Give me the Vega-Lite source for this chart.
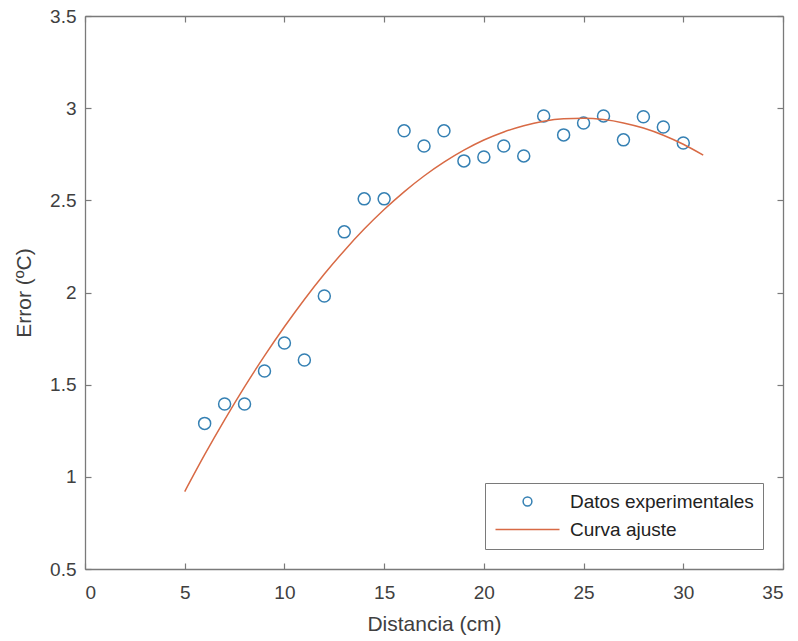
{
  "$schema": "https://vega.github.io/schema/vega-lite/v6.json",
  "width": 698,
  "height": 553,
  "autosize": {"type": "none"},
  "padding": {"left": 85, "top": 16, "right": 15, "bottom": 72},
  "background": "white",
  "config": {
    "view": {"stroke": null},
    "font": "Liberation Sans",
    "axis": {
      "grid": false,
      "domainColor": "#7a7a7a",
      "domainWidth": 1.3,
      "tickColor": "#7a7a7a",
      "tickWidth": 1.2,
      "tickSize": -6,
      "labelFontSize": 19,
      "labelColor": "#404040",
      "titleFontSize": 21,
      "titleColor": "#404040",
      "titleFontWeight": "normal"
    },
    "legend": {
      "orient": "bottom-right",
      "offset": 20,
      "padding": 9,
      "rowPadding": 8,
      "strokeColor": "#7a7a7a",
      "fillColor": "white",
      "labelFontSize": 19,
      "labelLimit": 400,
      "labelColor": "#222222",
      "symbolStrokeWidth": 1.5,
      "symbolSize": 256,
      "symbolOffset": 24,
      "labelOffset": 33
    }
  },
  "datasets": {
    "datos": [
      {"x": 6, "y": 1.29, "serie": "Datos experimentales"},
      {"x": 7, "y": 1.395, "serie": "Datos experimentales"},
      {"x": 8, "y": 1.395, "serie": "Datos experimentales"},
      {"x": 9, "y": 1.574, "serie": "Datos experimentales"},
      {"x": 10, "y": 1.726, "serie": "Datos experimentales"},
      {"x": 11, "y": 1.634, "serie": "Datos experimentales"},
      {"x": 12, "y": 1.981, "serie": "Datos experimentales"},
      {"x": 13, "y": 2.329, "serie": "Datos experimentales"},
      {"x": 14, "y": 2.508, "serie": "Datos experimentales"},
      {"x": 15, "y": 2.508, "serie": "Datos experimentales"},
      {"x": 16, "y": 2.877, "serie": "Datos experimentales"},
      {"x": 17, "y": 2.795, "serie": "Datos experimentales"},
      {"x": 18, "y": 2.877, "serie": "Datos experimentales"},
      {"x": 19, "y": 2.714, "serie": "Datos experimentales"},
      {"x": 20, "y": 2.735, "serie": "Datos experimentales"},
      {"x": 21, "y": 2.795, "serie": "Datos experimentales"},
      {"x": 22, "y": 2.741, "serie": "Datos experimentales"},
      {"x": 23, "y": 2.958, "serie": "Datos experimentales"},
      {"x": 24, "y": 2.855, "serie": "Datos experimentales"},
      {"x": 25, "y": 2.92, "serie": "Datos experimentales"},
      {"x": 26, "y": 2.958, "serie": "Datos experimentales"},
      {"x": 27, "y": 2.828, "serie": "Datos experimentales"},
      {"x": 28, "y": 2.953, "serie": "Datos experimentales"},
      {"x": 29, "y": 2.898, "serie": "Datos experimentales"},
      {"x": 30, "y": 2.811, "serie": "Datos experimentales"}
    ],
    "curva": [
      {"x": 5, "y": 0.92},
      {"x": 6, "y": 1.12},
      {"x": 7, "y": 1.309},
      {"x": 8, "y": 1.488},
      {"x": 9, "y": 1.656},
      {"x": 10, "y": 1.814},
      {"x": 11, "y": 1.962},
      {"x": 12, "y": 2.1},
      {"x": 13, "y": 2.227},
      {"x": 14, "y": 2.344},
      {"x": 15, "y": 2.45},
      {"x": 16, "y": 2.546},
      {"x": 17, "y": 2.632},
      {"x": 18, "y": 2.707},
      {"x": 19, "y": 2.772},
      {"x": 20, "y": 2.827},
      {"x": 21, "y": 2.871},
      {"x": 22, "y": 2.905},
      {"x": 23, "y": 2.929},
      {"x": 24, "y": 2.942},
      {"x": 25, "y": 2.945},
      {"x": 26, "y": 2.938},
      {"x": 27, "y": 2.92},
      {"x": 28, "y": 2.892},
      {"x": 29, "y": 2.853},
      {"x": 30, "y": 2.804},
      {"x": 31, "y": 2.745}
    ]
  },
  "layer": [
    {
      "data": {"name": "datos"},
      "mark": {"type": "point", "filled": false, "strokeWidth": 1.5, "size": 476, "opacity": 1},
      "encoding": {
        "x": {
          "field": "x", "type": "quantitative",
          "scale": {"domain": [0, 35], "nice": false},
          "axis": {"orient": "bottom", "values": [0, 5, 10, 15, 20, 25, 30, 35], "title": "Distancia (cm)", "labelPadding": 20, "titlePadding": 11}
        },
        "y": {
          "field": "y", "type": "quantitative",
          "scale": {"domain": [0.5, 3.5], "nice": false, "zero": false},
          "axis": {"orient": "left", "values": [0.5, 1, 1.5, 2, 2.5, 3, 3.5], "format": "~g", "title": "Error (ºC)", "labelPadding": 15, "titlePadding": 15}
        },
        "color": {
          "field": "serie", "type": "nominal",
          "scale": {"domain": ["Datos experimentales", "Curva ajuste"], "range": ["#3580b3", "#d86a45"]},
          "legend": {"title": null}
        },
        "shape": {
          "field": "serie", "type": "nominal",
          "scale": {"domain": ["Datos experimentales", "Curva ajuste"], "range": ["M-0.55,0A0.55,0.55 0 1,1 0.55,0A0.55,0.55 0 1,1 -0.55,0Z", "M-4,0H4"]},
          "legend": {"title": null}
        }
      }
    },
    {
      "data": {"name": "curva"},
      "mark": {"type": "line", "color": "#d86a45", "strokeWidth": 1.5, "interpolate": "monotone"},
      "encoding": {
        "x": {
          "field": "x", "type": "quantitative",
          "axis": {"orient": "top", "values": [0, 5, 10, 15, 20, 25, 30, 35], "labels": false, "title": null}
        },
        "y": {
          "field": "y", "type": "quantitative",
          "axis": {"orient": "right", "values": [0.5, 1, 1.5, 2, 2.5, 3, 3.5], "labels": false, "title": null}
        }
      }
    }
  ],
  "resolve": {"axis": {"x": "independent", "y": "independent"}}
}
